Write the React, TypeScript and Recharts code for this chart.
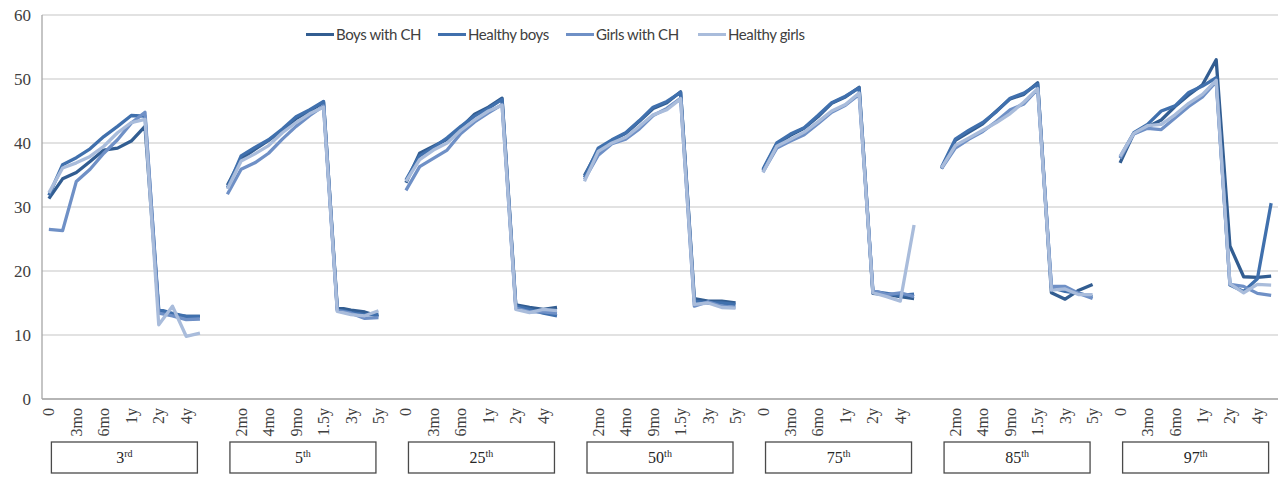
import React from 'react';
import { LineChart, Line, XAxis, YAxis, CartesianGrid, Legend } from 'recharts';

const ageLabels = ['0', '2mo', '3mo', '4mo', '6mo', '9mo', '1y', '1.5y', '2y', '3y', '4y', '5y'];
const percentileNumbers = ['3', '5', '25', '50', '75', '85', '97'];
const percentileSuffixes = ['rd', 'th', 'th', 'th', 'th', 'th', 'th'];
const yTicks = [0, 10, 20, 30, 40, 50, 60];

const boysWithCH = [
  [31.3, 34.4, 35.4, 37.1, 38.9, 39.2, 40.3, 42.6, 13.6, 13.2, 12.9, 12.9],
  [33.4, 37.5, 39.0, 40.4, 42.0, 43.8, 45.0, 46.4, 14.3, 13.9, 13.6, 12.9],
  [33.8, 38.4, 39.5, 40.6, 42.4, 44.5, 45.6, 47.0, 14.7, 14.3, 14.0, 14.3],
  [34.9, 38.9, 40.4, 41.5, 43.4, 45.4, 46.3, 48.0, 15.7, 15.3, 15.3, 15.0],
  [35.7, 39.8, 41.2, 42.3, 44.1, 46.2, 47.2, 48.7, 16.5, 16.3, 16.0, 15.7],
  [36.0, 40.4, 41.7, 43.0, 45.0, 46.9, 47.6, 49.4, 16.6, 15.6, 17.0, 17.9],
  [36.9, 41.5, 42.5, 43.6, 45.7, 47.5, 49.1, 53.0, 23.9, 19.1, 19.0, 19.2],
];
const healthyBoys = [
  [31.8, 36.6, 37.7, 39.1, 41.0, 42.6, 44.3, 44.2, 14.0, 13.4, 12.9, 12.9],
  [33.0, 38.0, 39.3, 40.5, 42.2, 44.1, 45.2, 46.5, 14.0, 13.5, 13.2, 13.2],
  [34.2, 38.0, 39.3, 40.8, 42.6, 44.2, 45.4, 46.8, 14.5, 14.0, 13.4, 13.0],
  [34.6, 39.2, 40.5, 41.6, 43.5, 45.6, 46.5, 47.9, 15.3, 15.0, 15.0, 14.8],
  [35.9, 40.0, 41.4, 42.4, 44.3, 46.3, 47.3, 48.6, 16.8, 16.5, 16.2, 16.4],
  [36.2, 40.6, 42.0, 43.2, 44.9, 47.0, 47.8, 49.2, 17.4, 16.8, 16.5, 16.0],
  [37.8, 41.6, 42.9, 45.0, 45.8, 47.9, 48.9, 50.2, 17.8, 16.8, 18.8, 30.6],
];
const girlsWithCH = [
  [26.5, 26.3, 34.0, 35.9, 38.4, 40.5, 43.1, 44.8, 13.4, 13.0, 12.4, 12.5],
  [32.0, 35.9, 36.9, 38.4, 40.6, 42.6, 44.3, 45.8, 13.8, 13.4, 12.6, 12.7],
  [32.6, 36.3, 37.6, 38.9, 41.5, 43.3, 44.7, 46.0, 14.2, 13.6, 13.6, 13.4],
  [34.3, 38.1, 39.9, 40.6, 42.2, 44.3, 45.4, 47.0, 14.5, 15.2, 14.5, 14.3],
  [35.5, 39.2, 40.3, 41.3, 43.0, 44.8, 45.9, 47.6, 17.0, 16.3, 16.6, 16.0],
  [36.0, 39.2, 40.6, 41.8, 43.4, 45.2, 46.1, 48.4, 17.6, 17.6, 16.5, 15.7],
  [37.6, 41.4, 42.3, 42.1, 43.9, 45.7, 47.2, 49.6, 17.9, 17.6, 16.5, 16.2],
];
const healthyGirls = [
  [32.2, 36.1, 36.9, 37.9, 39.5, 41.6, 43.2, 43.7, 11.6, 14.5, 9.8, 10.3],
  [32.8, 37.2, 38.3, 39.6, 41.6, 43.2, 44.6, 45.6, 13.7, 13.2, 13.0, 13.8],
  [34.0, 37.4, 38.9, 40.0, 42.0, 43.6, 45.0, 45.9, 14.0, 13.5, 14.0, 13.8],
  [34.0, 38.7, 40.0, 40.9, 42.6, 44.4, 45.2, 46.9, 14.8, 15.0, 14.3, 14.2],
  [35.4, 39.5, 40.6, 41.7, 43.3, 45.0, 46.0, 47.8, 16.6, 16.0, 15.3, 27.2],
  [36.1, 39.6, 40.8, 42.0, 43.2, 44.6, 46.4, 48.5, 17.0, 17.2, 16.3, 16.3],
  [37.9, 41.5, 42.7, 42.9, 44.4, 46.2, 47.6, 49.8, 18.0, 16.6, 17.9, 17.8],
];

const seriesInfo = [
  { key: 'boysCH', name: 'Boys with CH', color: '#325d91', values: boysWithCH },
  { key: 'healthyBoys', name: 'Healthy boys', color: '#4070ad', values: healthyBoys },
  { key: 'girlsCH', name: 'Girls with CH', color: '#6f90c6', values: girlsWithCH },
  { key: 'healthyGirls', name: 'Healthy girls', color: '#a9bcdb', values: healthyGirls },
];

type Row = { [k: string]: string | number | null };
const rows: Row[] = [];
percentileNumbers.forEach((p, g) => {
  ageLabels.forEach((age, k) => {
    const r: Row = { age, grp: g, local: k };
    seriesInfo.forEach((s) => { r[s.key] = s.values[g][k]; });
    rows.push(r);
  });
  if (g < percentileNumbers.length - 1) {
    const blank: Row = { age: '', grp: g, local: -1 };
    seriesInfo.forEach((s) => { blank[s.key] = null; });
    rows.push(blank);
  }
});

const TEXT = '#404040';
const CHART_W = 1282;
const CHART_H = 484;
const MARGIN = { top: 15, right: 4, left: 0, bottom: 0 };
const Y_AXIS_W = 42;
const PLOT_W = CHART_W - MARGIN.left - MARGIN.right - Y_AXIS_W;
// Excel-style category slots: half a slot of padding on each end
const SLOT = PLOT_W / rows.length;
const HALF_SLOT = SLOT / 2;
// the percentile box sits under the middle of each group (between the 6th and 7th age)
const BOX_ANCHOR = Math.floor((ageLabels.length - 1) / 2);
const LEGEND_ITEM_WIDTHS = [132, 128, 132, 110];

const AgeTick = (props: any) => {
  const { x, y, payload, index } = props;
  const row = rows[index];
  const showLabel = index % 2 === 0 && payload && payload.value !== '';
  const showBox = row && row.local === BOX_ANCHOR;
  const g = row ? (row.grp as number) : 0;
  const w = 146;
  const h = 31;
  const bx = x + HALF_SLOT;
  const by = y + 34;
  return (
    <g>
      {showLabel && (
        <text
          x={x}
          y={y}
          transform={`rotate(-90, ${x}, ${y})`}
          textAnchor="end"
          dominantBaseline="central"
          fontFamily="'Liberation Serif', serif"
          fontSize={16}
          fill={TEXT}
        >
          {payload.value}
        </text>
      )}
      {showBox && (
        <g>
          <rect x={bx - w / 2} y={by} width={w} height={h} fill="#ffffff" stroke="#4a4a4a" strokeWidth={1.3} />
          <text x={bx} y={by + 21} textAnchor="middle" fontFamily="'Liberation Serif', serif" fontSize={16} fill="#262626">
            <tspan>{percentileNumbers[g]}</tspan>
            <tspan fontSize={10} dy={-6}>{percentileSuffixes[g]}</tspan>
          </text>
        </g>
      )}
    </g>
  );
};

const LegendContent = () => (
  <div style={{ display: 'flex', alignItems: 'center', fontFamily: 'Lato, sans-serif', fontSize: 15, letterSpacing: -0.4, color: TEXT, whiteSpace: 'nowrap' }}>
    {seriesInfo.map((s, i) => (
      <div key={s.key} style={{ display: 'flex', alignItems: 'center', width: LEGEND_ITEM_WIDTHS[i] }}>
        <span style={{ display: 'inline-block', width: 28, height: 3, background: s.color, marginRight: 2 }} />
        <span>{s.name}</span>
      </div>
    ))}
  </div>
);

export default function App() {
  return (
    <div style={{ position: 'absolute', left: 0, top: 0, width: CHART_W, height: CHART_H, background: '#fff' }}>
      <LineChart width={CHART_W} height={CHART_H} data={rows} margin={MARGIN}>
        <CartesianGrid vertical={false} stroke="#d9d9d9" strokeWidth={1.3} />
        <XAxis
          dataKey="age"
          interval={0}
          padding={{ left: HALF_SLOT, right: HALF_SLOT }}
          tick={<AgeTick />}
          tickLine={false}
          tickSize={0}
          tickMargin={9}
          height={85}
          axisLine={{ stroke: '#a6a6a6', strokeWidth: 1.3 }}
        />
        <XAxis
          xAxisId="top"
          orientation="top"
          dataKey="age"
          height={0}
          tick={false}
          tickLine={false}
          axisLine={{ stroke: '#a6a6a6', strokeWidth: 1.3 }}
        />
        <YAxis
          domain={[0, 60]}
          ticks={yTicks}
          width={Y_AXIS_W}
          tickLine={false}
          tickSize={0}
          tickMargin={11}
          axisLine={{ stroke: '#a6a6a6', strokeWidth: 1.3 }}
          tick={{ fontFamily: "'Liberation Serif', serif", fontSize: 17, fill: TEXT }}
        />
        <YAxis
          yAxisId="right"
          orientation="right"
          domain={[0, 60]}
          width={0}
          tick={false}
          tickLine={false}
          axisLine={{ stroke: '#a6a6a6', strokeWidth: 1.3 }}
        />
        <Legend
          layout="horizontal"
          verticalAlign="middle"
          align="center"
          content={<LegendContent />}
          wrapperStyle={{ position: 'absolute', top: 25, left: 306, width: 'auto', height: 'auto' }}
        />
        {seriesInfo.map((s) => (
          <Line
            key={s.key}
            type="linear"
            dataKey={s.key}
            name={s.name}
            stroke={s.color}
            strokeWidth={3.3}
            strokeLinejoin="round"
            dot={false}
            activeDot={false}
            isAnimationActive={false}
          />
        ))}
      </LineChart>
    </div>
  );
}
